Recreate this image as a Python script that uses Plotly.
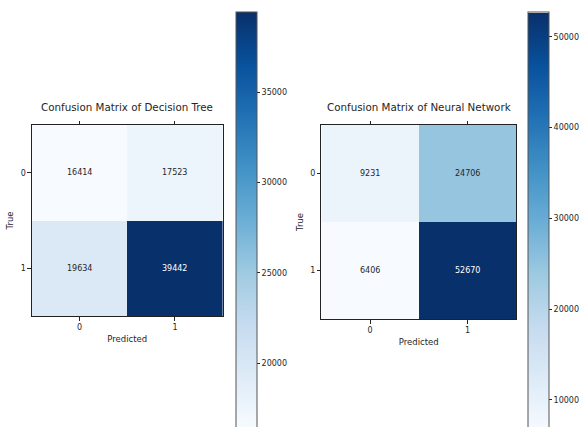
import plotly.graph_objects as go

W, H = 579, 427

# Confusion matrices (rows: true class, cols: predicted class)
classes = [0, 1]
tick_labels = ["0", "1"]
dt_matrix = [[16414, 17523],
             [19634, 39442]]
nn_matrix = [[9231, 24706],
             [6406, 52670]]
dt_title = "Confusion Matrix of Decision Tree"
nn_title = "Confusion Matrix of Neural Network"
dt_cbar_ticks = [20000, 25000, 30000, 35000]
nn_cbar_ticks = [10000, 20000, 30000, 40000, 50000]

blues = [
    "#f7fbff", "#deebf7", "#c6dbef", "#9ecae1", "#6baed6",
    "#4292c6", "#2171b5", "#08519c", "#08306b",
]
colorscale = [[i / (len(blues) - 1), c] for i, c in enumerate(blues)]

TXT = "#262626"
FONT = "DejaVu Sans"


def px_x(p):
    return p / W


def px_y(p):
    return 1 - p / H


panels = [
    # matrix, title, box (left, right, top, bottom) px, colorbar (left, top, len), cbar ticks
    (dt_matrix, dt_title, (32, 223, 125, 316), (236, 12, 416), dt_cbar_ticks),
    (nn_matrix, nn_title, (322, 517, 125, 319), (527.5, 12.5, 420), nn_cbar_ticks),
]

fig = go.Figure()
annotations = []

for i, (m, title, box, cb, cticks) in enumerate(panels):
    sfx = "" if i == 0 else str(i + 1)
    xa, ya = "x" + sfx, "y" + sfx
    flat = [v for row in m for v in row]
    zmin, zmax = min(flat), max(flat)
    fig.add_trace(go.Heatmap(
        z=m, x=classes, y=classes,
        colorscale=colorscale, zmin=zmin, zmax=zmax,
        xaxis=xa, yaxis=ya, hoverinfo="skip",
        colorbar=dict(
            x=px_x(cb[0]), xanchor="left", xpad=0,
            y=px_y(cb[1]), yanchor="top", ypad=0,
            len=cb[2], lenmode="pixels",
            thickness=21, thicknessmode="pixels",
            outlinewidth=1, outlinecolor="#555555",
            tickvals=cticks, ticktext=[str(t) for t in cticks],
            ticks="outside", ticklen=3, tickcolor=TXT, tickwidth=1,
            tickfont=dict(family=FONT, size=8, color=TXT),
        ),
    ))

    l, r, t, b = box
    axis_common = dict(
        showline=True, linecolor="#222222", linewidth=1,
        ticks="outside", ticklen=3.5, tickcolor="#222222", tickwidth=1,
        tickvals=classes, ticktext=tick_labels,
        tickfont=dict(family=FONT, size=8, color=TXT),
        showgrid=False, zeroline=False, fixedrange=True,
        range=[-0.5, 1.5],
    )
    fig.layout["xaxis" + sfx] = dict(
        axis_common,
        domain=[px_x(l), px_x(r)], anchor=ya, mirror="ticks",
        title=dict(text="Predicted", standoff=4,
                   font=dict(family=FONT, size=8.5, color=TXT)),
    )
    fig.layout["yaxis" + sfx] = dict(
        axis_common,
        domain=[px_y(b), px_y(t)], anchor=xa, mirror=True,
        range=[1.5, -0.5],
        title=dict(text="True", standoff=5,
                   font=dict(family=FONT, size=8.5, color=TXT)),
    )

    # Cell counts: white on dark cells, dark on light cells
    thresh = zmax / 2
    for ri, row in enumerate(m):
        for ci, v in enumerate(row):
            annotations.append(dict(
                x=classes[ci], y=classes[ri], xref=xa, yref=ya,
                text=str(v), showarrow=False,
                font=dict(family=FONT, size=8,
                          color="white" if v > thresh else TXT),
            ))

    annotations.append(dict(
        x=(px_x(l) + px_x(r)) / 2, y=px_y(t - 18), xref="paper", yref="paper",
        text=title, showarrow=False, xanchor="center", yanchor="middle",
        font=dict(family=FONT, size=10.3, color=TXT),
    ))

fig.update_layout(
    width=W, height=H,
    margin=dict(l=0, r=0, t=0, b=0),
    paper_bgcolor="white", plot_bgcolor="white",
    annotations=annotations,
    showlegend=False,
)

fig.write_html("out.html")
